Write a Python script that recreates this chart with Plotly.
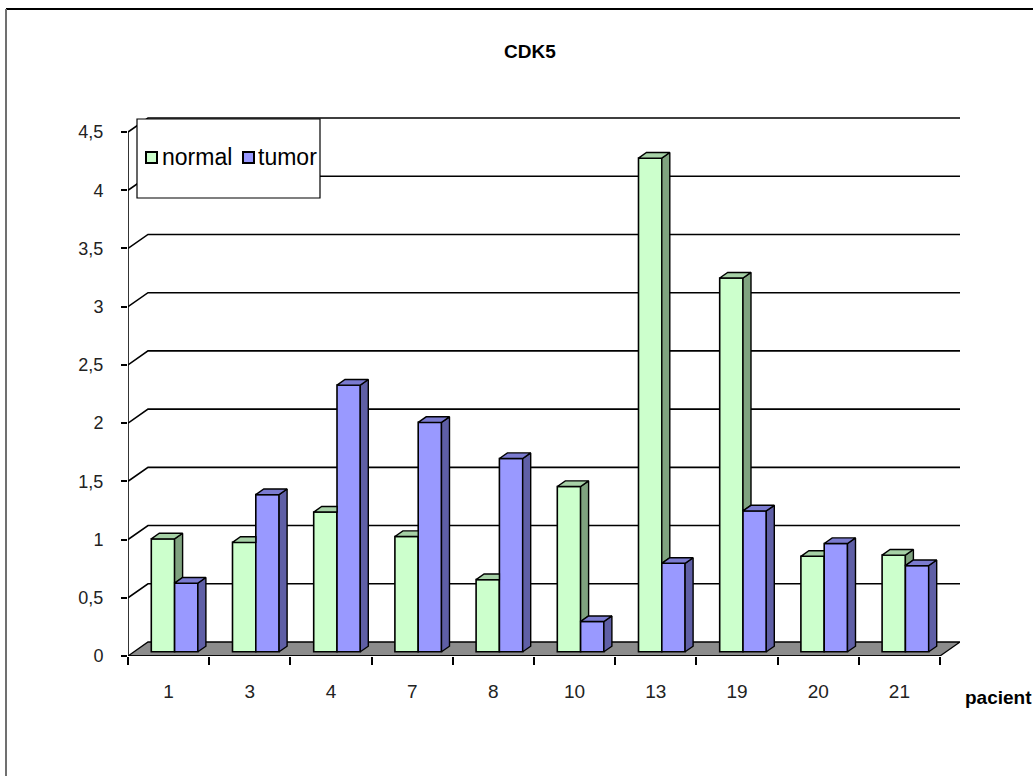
import plotly.graph_objects as go

# ---- data -----------------------------------------------------------------
patients = ["1", "3", "4", "7", "8", "10", "13", "19", "20", "21"]
normal = [0.97, 0.94, 1.20, 0.99, 0.62, 1.42, 4.24, 3.21, 0.82, 0.83]
tumor = [0.59, 1.35, 2.29, 1.97, 1.66, 0.26, 0.76, 1.21, 0.93, 0.74]
y_ticks = [0, 0.5, 1, 1.5, 2, 2.5, 3, 3.5, 4, 4.5]
y_tick_labels = ["0", "0,5", "1", "1,5", "2", "2,5", "3", "3,5", "4", "4,5"]

# ---- pseudo-3D geometry ---------------------------------------------------
W, H = 1033, 776
ML, MR, MT, MB = 128, 73, 110, 120
PLOT_W, PLOT_H = W - ML - MR, H - MT - MB
CAT_PX = 81.2          # pixels per category slot on the front edge
UNIT_PX = 116.44       # pixels per value unit on the front axis
X_MAX = PLOT_W / CAT_PX
Y_MAX = PLOT_H / UNIT_PX
DX = 20 / CAT_PX       # full depth of the floor, horizontal part
DY = 14 / UNIT_PX      # full depth of the floor, vertical part
F0, F1 = 0.3, 0.7      # bars occupy this slice of the depth
BAR_W = 23.3 / CAT_PX
SDX, SDY = (F1 - F0) * DX, (F1 - F0) * DY
BASE = F0 * DY
N = len(patients)

GREEN, GREEN_SIDE, GREEN_TOP = "#CCFFCC", "#7FA37F", "#A6D1A6"
BLUE, BLUE_SIDE, BLUE_TOP = "#9999FF", "#5F5FA6", "#7B7BD0"
FONT = "Liberation Sans, Arial, sans-serif"


def px_x(p):
    return (p - ML) / PLOT_W


def px_y(p):
    return (H - MB - p) / PLOT_H


def poly(xs, ys, pts):
    for x, y in pts:
        xs.append(x)
        ys.append(y)
    xs.append(pts[0][0])
    ys.append(pts[0][1])
    xs.append(None)
    ys.append(None)


fig = go.Figure()

# front faces of the columns
centers = [i + 0.5 + F0 * DX for i in range(N)]
fig.add_trace(go.Bar(x=centers, y=normal, base=BASE, width=BAR_W, offset=-BAR_W,
                     marker=dict(color=GREEN, line=dict(color="black", width=1.6)),
                     name="normal", showlegend=False, hoverinfo="skip"))
fig.add_trace(go.Bar(x=centers, y=tumor, base=BASE, width=BAR_W, offset=0,
                     marker=dict(color=BLUE, line=dict(color="black", width=1.6)),
                     name="tumor", showlegend=False, hoverinfo="skip"))

# side and top faces
ns_x, ns_y, nt_x, nt_y = [], [], [], []
ts_x, ts_y, tt_x, tt_y = [], [], [], []
for i in range(N):
    c = centers[i]
    # normal column: left of the centre
    xl, xr = c - BAR_W, c
    top_n = BASE + normal[i]
    top_t = BASE + tumor[i]
    if top_t < top_n:
        lo = max(BASE, top_t)
        poly(ns_x, ns_y, [(xr, lo), (xr + SDX, lo + SDY), (xr + SDX, top_n + SDY), (xr, top_n)])
        poly(nt_x, nt_y, [(xl, top_n), (xr, top_n), (xr + SDX, top_n + SDY), (xl + SDX, top_n + SDY)])
    else:
        # the taller tumour column hides the right part of this top face
        poly(nt_x, nt_y, [(xl, top_n), (xr, top_n), (xr, top_n + SDY), (xl + SDX, top_n + SDY)])
    # tumour column: right of the centre
    xl, xr = c, c + BAR_W
    poly(ts_x, ts_y, [(xr, BASE), (xr + SDX, BASE + SDY), (xr + SDX, top_t + SDY), (xr, top_t)])
    poly(tt_x, tt_y, [(xl, top_t), (xr, top_t), (xr + SDX, top_t + SDY), (xl + SDX, top_t + SDY)])

for xs, ys, col in [(ns_x, ns_y, GREEN_SIDE), (nt_x, nt_y, GREEN_TOP),
                    (ts_x, ts_y, BLUE_SIDE), (tt_x, tt_y, BLUE_TOP)]:
    fig.add_trace(go.Scatter(x=xs, y=ys, mode="lines", fill="toself", fillcolor=col,
                             line=dict(color="black", width=1.4),
                             showlegend=False, hoverinfo="skip"))

shapes = []
# floor
shapes.append(dict(type="path", xref="x", yref="y", layer="below",
                   path=f"M 0,0 L {N},0 L {N + DX},{DY} L {DX},{DY} Z",
                   fillcolor="#8C8C8C", line=dict(color="black", width=1.3)))
# back-wall gridlines with their diagonal on the side wall
for v in y_ticks[1:]:
    shapes.append(dict(type="path", xref="x", yref="y", layer="below",
                       path=f"M 0,{v} L {DX},{v + DY} L {N + DX},{v + DY}",
                       line=dict(color="black", width=1.6)))
# front value axis and category axis lines
shapes.append(dict(type="line", xref="x", yref="y", x0=0, x1=0, y0=0, y1=y_ticks[-1],
                   line=dict(color="black", width=1.6)))
shapes.append(dict(type="line", xref="x", yref="y", x0=0, x1=N, y0=0, y1=0,
                   line=dict(color="black", width=1.6)))

# legend box
shapes.append(dict(type="rect", xref="paper", yref="paper",
                   x0=px_x(137), x1=px_x(320), y0=px_y(198), y1=px_y(119),
                   fillcolor="white", line=dict(color="black", width=1.2)))
for x0, col in [(146, GREEN), (243, BLUE)]:
    shapes.append(dict(type="rect", xref="paper", yref="paper",
                       x0=px_x(x0), x1=px_x(x0 + 11), y0=px_y(163), y1=px_y(152),
                       fillcolor=col, line=dict(color="black", width=2)))

# chart-area border
shapes.append(dict(type="line", xref="paper", yref="paper",
                   x0=px_x(6), x1=px_x(W), y0=px_y(9), y1=px_y(9),
                   line=dict(color="black", width=2)))
shapes.append(dict(type="line", xref="paper", yref="paper",
                   x0=px_x(6), x1=px_x(6), y0=px_y(9), y1=px_y(H),
                   line=dict(color="#707070", width=2)))

annotations = [
    dict(text="normal", x=px_x(160), y=px_y(157), xref="paper", yref="paper",
         xanchor="left", yanchor="middle", showarrow=False,
         font=dict(family=FONT, size=23, color="black")),
    dict(text="tumor", x=px_x(256), y=px_y(157), xref="paper", yref="paper",
         xanchor="left", yanchor="middle", showarrow=False,
         font=dict(family=FONT, size=23, color="black")),
    dict(text="<b>pacient</b>", x=px_x(963), y=px_y(697), xref="paper", yref="paper",
         xanchor="left", yanchor="middle", showarrow=False,
         font=dict(family=FONT, size=19, color="black")),
    dict(text="<b>CDK5</b>", x=px_x(530), y=px_y(52), xref="paper", yref="paper",
         xanchor="center", yanchor="middle", showarrow=False,
         font=dict(family=FONT, size=19, color="black")),
]

fig.update_layout(
    width=W, height=H,
    margin=dict(l=ML, r=MR, t=MT, b=MB, pad=0),
    paper_bgcolor="white", plot_bgcolor="white",
    barmode="overlay",
    shapes=shapes, annotations=annotations,
    font=dict(family=FONT, color="black"),
    xaxis=dict(range=[0, X_MAX], showgrid=False, zeroline=False, showline=False,
               tickvals=[i + 0.5 for i in range(N)], ticktext=patients,
               ticks="", ticklabelstandoff=22,
               tickfont=dict(family=FONT, size=19, color="#222"),
               minor=dict(tickvals=list(range(N + 1)), ticks="outside", ticklen=8,
                          tickwidth=1.5, tickcolor="black", showgrid=False),
               fixedrange=True),
    yaxis=dict(range=[0, Y_MAX], showgrid=False, zeroline=False, showline=False,
               tickvals=y_ticks, ticktext=y_tick_labels,
               ticks="outside", ticklen=6, tickwidth=1.5, tickcolor="black",
               ticklabelstandoff=14,
               tickfont=dict(family=FONT, size=18, color="#222"),
               fixedrange=True),
)

fig.write_html("out.html")
